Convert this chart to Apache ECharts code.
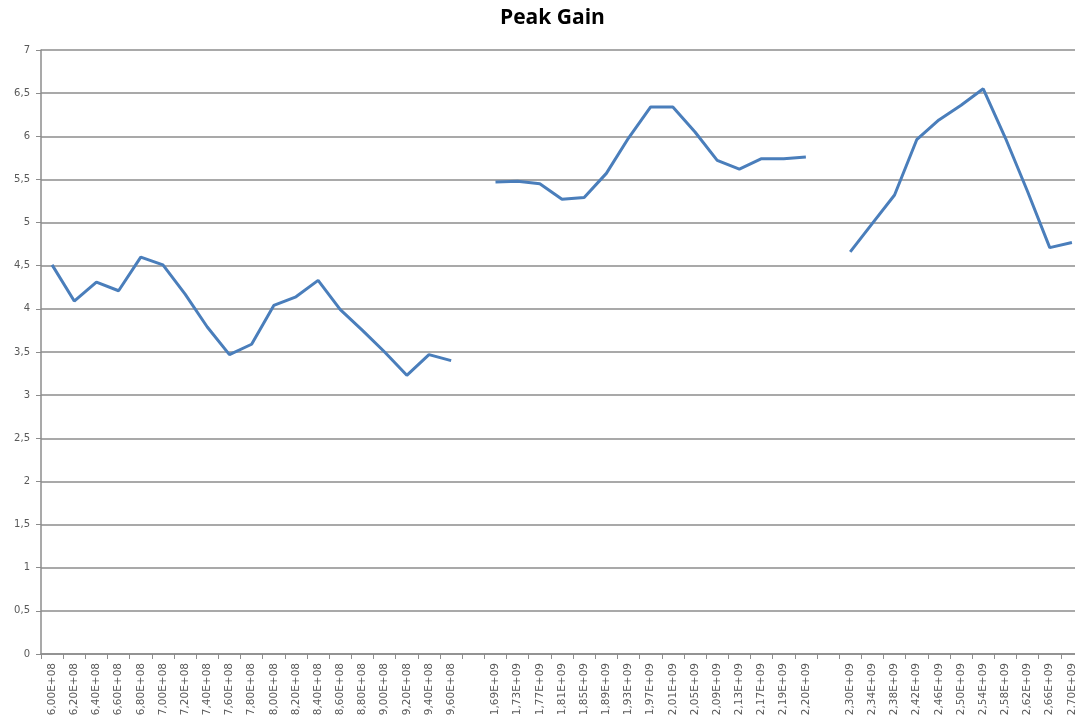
<!DOCTYPE html>
<html>
<head>
<meta charset="utf-8">
<script src="https://cdn.jsdelivr.net/npm/echarts@6/dist/echarts.min.js"></script>
<style>
html,body{margin:0;padding:0;background:#fff;overflow:hidden;width:1075px;height:725px;}
#chart{width:1090px;height:725px;}
</style>
</head>
<body>
<div id="chart"></div>
<script>
var categories = [
  "6,00E+08","6,20E+08","6,40E+08","6,60E+08","6,80E+08","7,00E+08","7,20E+08","7,40E+08","7,60E+08","7,80E+08",
  "8,00E+08","8,20E+08","8,40E+08","8,60E+08","8,80E+08","9,00E+08","9,20E+08","9,40E+08","9,60E+08",
  "",
  "1,69E+09","1,73E+09","1,77E+09","1,81E+09","1,85E+09","1,89E+09","1,93E+09","1,97E+09","2,01E+09","2,05E+09",
  "2,09E+09","2,13E+09","2,17E+09","2,19E+09","2,20E+09",
  "",
  "2,30E+09","2,34E+09","2,38E+09","2,42E+09","2,46E+09","2,50E+09","2,54E+09","2,58E+09","2,62E+09","2,66E+09","2,70E+09"
];
var band1 = [4.51,4.09,4.31,4.21,4.60,4.51,4.17,3.79,3.47,3.59,4.04,4.14,4.33,3.99,3.75,3.50,3.23,3.47,3.40];
var band2 = [5.47,5.48,5.45,5.27,5.29,5.57,5.98,6.34,6.34,6.05,5.72,5.62,5.74,5.74,5.76];
var band3 = [4.66,4.99,5.32,5.96,6.19,6.36,6.55,5.98,5.36,4.71,4.77];
var yTicks = [0,0.5,1,1.5,2,2.5,3,3.5,4,4.5,5,5.5,6,6.5,7];

var values = [].concat(band1, [null], band2, [null], band3);

var chart = echarts.init(document.getElementById('chart'), null, {renderer:'canvas'});
chart.setOption({
  animation: false,
  backgroundColor: '#ffffff',
  title: {
    text: 'Peak Gain',
    left: 495,
    top: 3,
    textStyle: {fontFamily: 'Open Sans', fontWeight: 'bold', fontSize: 21, color: '#000000'}
  },
  grid: {left: 41, top: 50, width: 1042, height: 604, containLabel: false},
  xAxis: {
    type: 'category',
    data: categories,
    boundaryGap: true,
    axisLine: {lineStyle: {color: '#8c8c8c', width: 1.5}},
    axisTick: {show: true, length: 5, interval: 0, lineStyle: {color: '#8c8c8c', width: 1}},
    axisLabel: {interval: 0, rotate: 90, fontSize: 10.5, color: '#595959', fontFamily: 'DejaVu Sans', margin: 9},
    splitLine: {show: false}
  },
  yAxis: {
    type: 'value',
    min: 0, max: 7, interval: 0.5,
    axisLine: {show: true, lineStyle: {color: '#8c8c8c', width: 1.5}},
    axisTick: {show: true, length: 5, lineStyle: {color: '#8c8c8c', width: 1}},
    axisLabel: {
      fontSize: 10, color: '#595959', fontFamily: 'DejaVu Sans', margin: 11,
      formatter: function (v) { return String(v).replace('.', ','); }
    },
    splitLine: {show: true, lineStyle: {color: '#8c8c8c', width: 1.5}}
  },
  series: [{
    type: 'line',
    data: values,
    connectNulls: false,
    symbol: 'none',
    lineStyle: {color: '#4a7ebb', width: 3},
    itemStyle: {color: '#4a7ebb'}
  }]
});
</script>
</body>
</html>
